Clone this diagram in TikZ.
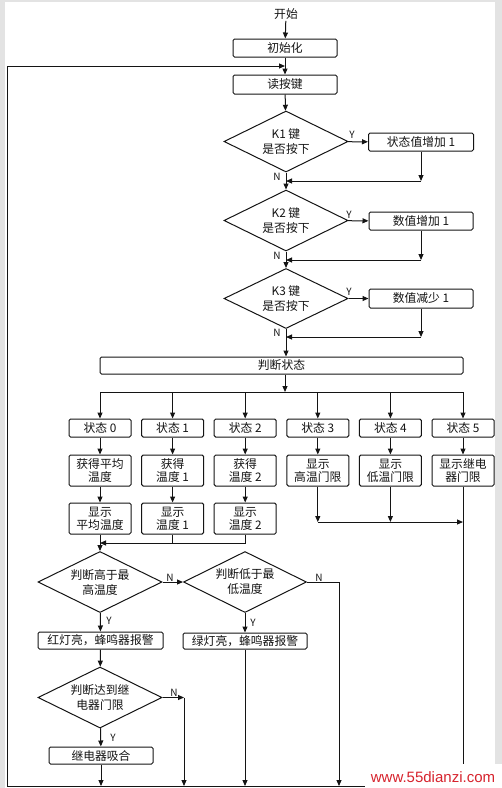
\documentclass[tikz,border=0pt]{standalone}
\usepackage{fontspec}
\setmainfont{Noto Sans CJK SC}
\newfontfamily\markfont{Liberation Sans}
\usetikzlibrary{shapes.geometric,arrows.meta}
\definecolor{markred}{RGB}{215,35,45}

\begin{document}
\begin{tikzpicture}[x=1pt, y=-1pt, >={Triangle[length=6pt,width=5pt]}]
            \tikzset{
                box/.style = {draw, rounded corners=1.5pt, inner sep=0pt,
                    minimum height=18pt, align=center,
                    font=\fontsize{11.8}{13}\selectfont},
                cond/.style = {draw, diamond, inner sep=0pt, aspect=2,
                    minimum width=124pt, minimum height=61pt, align=center,
                    font=\fontsize{11.8}{15}\selectfont},
                yn/.style = {inner sep=0pt, font=\fontsize{10}{10}\selectfont},
                every path/.style = {line width=1pt, black!92}
            }
            \useasboundingbox (0,0) rectangle (502,788);
            \fill[gray!22] (0,0) rectangle (502,788);
            \fill[white] (5,2) rectangle (495,788);

            % top part
            \node[inner sep=1pt, font=\fontsize{11.8}{13}\selectfont] (start) at (286,14) {开始};
            \node[box, minimum width=104pt] (init) at (285,48) {初始化};
            \node[box, minimum width=104pt, minimum height=19pt] (readkey) at (285,84.5) {读按键};
            \draw[->] (start) -- (init);
            \draw[->] (init) -- (readkey);

            \node[cond] (k1) at (286,141.5) {K1 键\\是否按下};
            \node[cond] (k2) at (286,220.5) {K2 键\\是否按下};
            \node[cond, minimum height=60pt] (k3) at (286,298.5) {K3 键\\是否按下};
            \node[box, minimum width=105pt] (k1yes) at (421,142) {状态值增加 1};
            \node[box, minimum width=104pt] (k2yes) at (421,221) {数值增加 1};
            \node[box, minimum width=104pt, minimum height=19pt] (k3yes) at (421,298.5) {数值减少 1};
            \node[box, minimum width=363pt, minimum height=17pt] (judge) at (281.5,365.5) {判断状态};

            \draw[->] (readkey) -- (k1);
            \draw[->] (k1) -- (k2);
            \draw[->] (k2) -- (k3);
            \draw[->] (k3) -- (k3 |- judge.north);
            \coordinate (j1) at (421,181);
            \coordinate (j2) at (421,260);
            \coordinate (j3) at (421,337);
            \foreach \k in {1,2,3}{
                \draw[->] (k\k) -- (k\k yes);
                \draw[->] (k\k yes) -- (j\k);
                \draw[->] (j\k) -- (k\k |- j\k);
            }
            \node[yn] (y1) at (352,135) {Y};
            \node[yn] (y2) at (349,215) {Y};
            \node[yn] (y3) at (349,292) {Y};
            \node[yn] (n1) at (277,177) {N};
            \node[yn] (n2) at (277,256) {N};
            \node[yn] (n3) at (277,333) {N};

            % states
            \coordinate (bus) at (285,392);
            \draw[->] (judge.south -| bus) -- (bus);
            \foreach \i/\stxt/\gtxt in {0/状态 0/获得平均\\温度, 1/状态 1/获得\\温度 1,
                    2/状态 2/获得\\温度 2, 3/状态 3/显示\\高温门限,
                    4/状态 4/显示\\低温门限, 5/状态 5/显示继电\\器门限}{
                \node[box, minimum width=62pt] (s\i) at (100+72.6*\i,428) {\stxt};
                \node[box, minimum width=62pt, minimum height=31pt] (g\i) at (100+72.6*\i,470.5) {\gtxt};
                \draw[->] (bus -| s\i) -- (s\i);
                \draw[->] (s\i) -- (g\i);
            }
            \draw (bus -| s0) -- (bus -| s5);
            \foreach \i/\dtxt in {0/显示\\平均温度, 1/显示\\温度 1, 2/显示\\温度 2}{
                \node[box, minimum width=62pt, minimum height=31pt] (d\i) at (100+72.6*\i,518.5) {\dtxt};
                \draw[->] (g\i) -- (d\i);
            }
            \coordinate (m0) at (100,543);
            \draw[->] (d2) |- (m0);
            \draw (d1) -- (d1 |- m0);
            \coordinate (r5) at (463,522);
            \draw[->] (g3) -- (g3 |- r5);
            \draw[->] (g4) -- (g4 |- r5);
            \draw[->] (g3 |- r5) -- (r5);

            % temperature checks
            \coordinate (bottom) at (7,786);
            \node[cond] (hi) at (100,582) {判断高于最\\高温度};
            \node[cond, minimum width=123pt] (lo) at (245,582) {判断低于最\\低温度};
            \node[box, minimum width=125pt, minimum height=17pt] (red) at (100.5,640.5) {红灯亮，蜂鸣器报警};
            \node[box, minimum width=124pt, minimum height=16pt] (green) at (245,641) {绿灯亮，蜂鸣器报警};
            \node[cond] (relay) at (100,697.5) {判断达到继\\电器门限};
            \node[box, minimum width=104pt, minimum height=17pt] (relayon) at (101,755.5) {继电器吸合};
            \coordinate (loend) at (339,786);
            \coordinate (rn) at (184,697.5);

            \draw[->] (d0) -- (hi);
            \draw[->] (hi) -- (lo);
            \draw[->] (lo.east) -| (loend);
            \draw[->] (hi) -- (red);
            \draw[->] (lo) -- (green);
            \draw[->] (green) -- (green |- bottom);
            \draw[->] (red) -- (relay);
            \draw[->] (relay) -- (rn);
            \draw[->] (rn) -- (rn |- bottom);
            \draw[->] (relay) -- (relayon);
            \draw[->] (relayon) -- (relayon |- bottom);
            \node[yn] (n4) at (170,578) {N};
            \node[yn] (n5) at (319,578) {N};
            \node[yn] (n6) at (174,693) {N};
            \node[yn] (y4) at (109,621) {Y};
            \node[yn] (y5) at (253,623) {Y};
            \node[yn] (y6) at (113,738) {Y};

            % loop back
            \coordinate (tl) at (7,66);
            \coordinate (loop) at (285,66);
            \draw (g5) -- (g5 |- bottom);
            \draw[->] (g5 |- bottom) -- (bottom) -- (tl) -- (loop);

            \fill[white] (365,764) rectangle (502,788);
            \node[inner sep=0pt, text=markred, font=\markfont\fontsize{15}{15}\selectfont] (mark) at (433,777) {www.55dianzi.com};
        \end{tikzpicture}
\end{document}
